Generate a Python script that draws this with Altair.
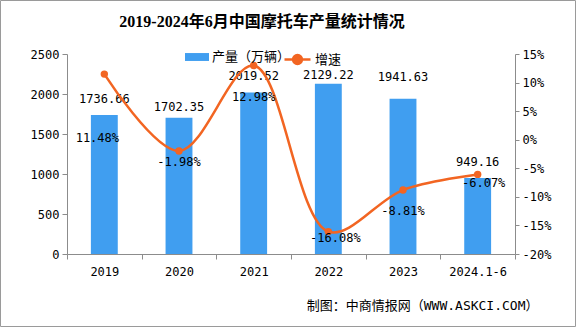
import altair as alt
import pandas as pd

categories = ["2019", "2020", "2021", "2022", "2023", "2024.1-6"]
production = [1736.66, 1702.35, 2019.52, 2129.22, 1941.63, 949.16]
growth = [11.48, -1.98, 12.98, -16.08, -8.81, -6.07]

df = pd.DataFrame({
    "year": categories,
    "prod": production,
    "growth": growth,
    "prod_label": [f"{v:.2f}" for v in production],
    "growth_label": [f"{v:.2f}%" for v in growth],
    "s1": ["产量（万辆）"] * len(categories),
    "s2": ["增速"] * len(categories),
})

W, H = 448, 200
PL, PT = 67, 54
FONT = "DejaVu Sans Mono, Noto Sans CJK SC"
BLUE = "#409ef0"
ORANGE = "#f26522"
GREY = "#8c8c8c"

# label nudges (style, not data)
bar_label_dy = [-16, -11, -16, -9, -22, -16]
pct_label_dy = [64, 11, 31, 6, 21, 9]
pct_label_dx = [-7, 0, 0, 7, 0, 6]

x_main = alt.X(
    "year:N", sort=categories,
    scale=alt.Scale(paddingInner=0, paddingOuter=0),
    axis=alt.Axis(
        title="制图：中商情报网（WWW.ASKCI.COM）",
        titleFont=FONT, titleFontSize=13, titleFontWeight="normal", titleColor="#000",
        titleX=471, titleY=51, titleAlign="right", titleBaseline="middle", titleAnchor="end",
        labelAngle=0, labelFont=FONT, labelFontSize=12, labelColor="#000",
        labelPadding=7, tickBand="extent", tickSize=5, tickColor=GREY,
        domainColor=GREY, grid=False,
    ),
)
x_plain = alt.X("year:N", sort=categories)

left_scale = alt.Scale(domain=[0, 2500], nice=False, zero=True)
right_scale = alt.Scale(domain=[-20, 15], nice=False, zero=False)

y_left_axis = alt.Y(
    "prod:Q", scale=left_scale,
    axis=alt.Axis(
        title=None, values=[0, 500, 1000, 1500, 2000, 2500], format="d",
        labelFont=FONT, labelFontSize=12, labelColor="#000", labelPadding=3,
        tickSize=5, tickColor=GREY, domainColor=GREY, grid=False,
    ),
)
y_right_axis = alt.Y(
    "growth:Q", scale=right_scale,
    axis=alt.Axis(
        title=None, orient="right", values=[-20, -15, -10, -5, 0, 5, 10, 15],
        labelExpr="datum.value + '%'",
        labelFont=FONT, labelFontSize=12, labelColor="#000", labelPadding=3,
        tickSize=4, tickColor=GREY, domainColor=GREY, grid=False,
    ),
)

base = alt.Chart(df)

bars = base.mark_bar(width=alt.RelativeBandSize(0.36), color=BLUE).encode(
    x=x_main, y=y_left_axis,
    fill=alt.Fill(
        "s1:N", scale=alt.Scale(range=[BLUE]),
        legend=alt.Legend(
            title=None, orient="none", legendX=118, legendY=-9,
            symbolType="M-1,-0.33H1V0.33H-1Z", symbolSize=576,
            symbolStrokeWidth=0, labelFont=FONT, labelFontSize=13,
            labelColor="#000", labelOffset=3,
        ),
    ),
)

layers = [bars]
for i, cat in enumerate(categories):
    layers.append(
        base.transform_filter(alt.datum.year == cat)
        .mark_text(font=FONT, fontSize=12, color="#000", baseline="middle",
                   dy=bar_label_dy[i])
        .encode(x=x_plain, y=alt.Y("prod:Q", scale=left_scale, axis=None),
                text="prod_label:N")
    )

line = base.mark_line(interpolate="catmull-rom", strokeWidth=2.5).encode(
    x=x_plain,
    y=y_right_axis,
    stroke=alt.Stroke(
        "s2:N", scale=alt.Scale(range=[ORANGE]),
        legend=alt.Legend(
            title=None, orient="none", legendX=216, legendY=-9,
            symbolType="M-1,0H1M0.34,0A0.34,0.34,0,1,1,-0.34,0A0.34,0.34,0,1,1,0.34,0",
            symbolSize=676, symbolStrokeWidth=2.5, symbolFillColor=ORANGE,
            labelFont=FONT, labelFontSize=13, labelColor="#000", labelOffset=3,
        ),
    ),
)
layers.append(line)

layers.append(
    base.mark_circle(size=55, color=ORANGE, opacity=1).encode(
        x=x_plain, y=alt.Y("growth:Q", scale=right_scale, axis=None),
    )
)

for i, cat in enumerate(categories):
    layers.append(
        base.transform_filter(alt.datum.year == cat)
        .mark_text(font=FONT, fontSize=12, color="#000", baseline="middle",
                   dy=pct_label_dy[i], dx=pct_label_dx[i])
        .encode(x=x_plain,
                y=alt.Y("growth:Q", scale=right_scale, axis=None),
                text="growth_label:N")
    )

border = alt.Chart(pd.DataFrame({"a": [0]})).mark_rect(
    filled=False, fill=None, stroke="#9a9a9a", strokeWidth=1
).encode(
    x=alt.value(-PL + 0.5), x2=alt.value(576 - PL - 0.5),
    y=alt.value(-PT + 0.5), y2=alt.value(327 - PT - 0.5),
)
layers.append(border)

chart = (
    alt.layer(*layers)
    .resolve_scale(y="independent")
    .properties(
        width=W, height=H,
        autosize=alt.AutoSizeParams(type="none"),
        padding={"left": PL, "top": PT, "right": 576 - PL - W, "bottom": 327 - PT - H},
        background="white",
        title=alt.TitleParams(
            "2019-2024年6月中国摩托车产量统计情况",
            font="Liberation Serif, Noto Sans CJK SC", fontSize=16, fontWeight="bold",
            color="#000", anchor="middle", dx=-29, offset=-30, frame="group",
        ),
    )
    .configure_view(stroke=None)
)

chart.save("out.html", embed_options={"renderer": "svg", "actions": False})
